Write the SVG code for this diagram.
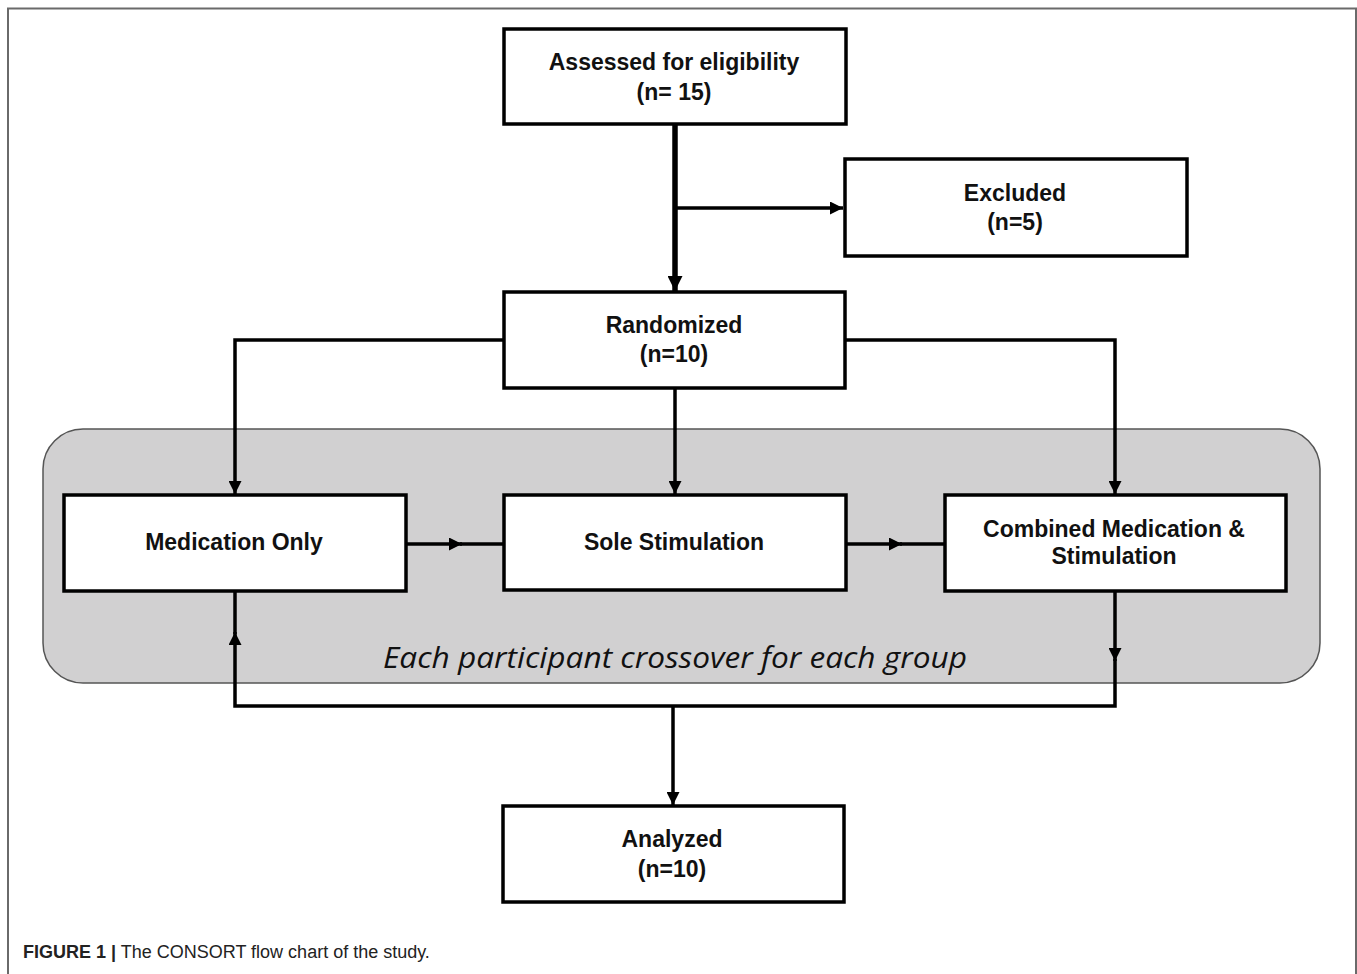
<svg xmlns="http://www.w3.org/2000/svg" width="1357" height="974" viewBox="0 0 1357 974">
  <style>
    .box { fill: #ffffff; stroke: #000000; stroke-width: 3.5; }
    .lbl { font-family: "Liberation Sans", Arial, sans-serif; font-weight: bold; font-size: 23px; fill: #111111; text-anchor: middle; }
    .conn { fill: none; stroke: #000000; stroke-width: 3.5; }
    .trunk { fill: none; stroke: #000000; stroke-width: 5.5; }
    .note { font-family: "Open Sans", "Noto Sans", sans-serif; font-style: italic; font-size: 29px; fill: #111111; }
    .cap { font-family: "Liberation Sans", Arial, sans-serif; font-size: 18px; fill: #222222; }
  </style>
  <defs>
    <marker id="arrow" viewBox="0 0 13 13" refX="13" refY="6.5" markerWidth="13" markerHeight="13" markerUnits="userSpaceOnUse" orient="auto">
      <path d="M0,0 L13,6.5 L0,13 z" fill="#000000"/>
    </marker>
    <marker id="arrowBig" viewBox="0 0 15 15" refX="15" refY="7.5" markerWidth="15" markerHeight="15" markerUnits="userSpaceOnUse" orient="auto">
      <path d="M0,0 L15,7.5 L0,15 z" fill="#000000"/>
    </marker>
  </defs>

  <rect width="1357" height="974" fill="#ffffff"/>

  <!-- figure frame -->
  <path d="M8,974 V8.5 H1356 V974" fill="none" stroke="#6a6a6a" stroke-width="2"/>

  <!-- crossover panel -->
  <g id="crossover-panel">
    <rect x="43" y="429" width="1277" height="254" rx="40" ry="40" fill="#d1d0d1" stroke="#555555" stroke-width="1.5"/>
    <text class="note" x="383" y="668" textLength="584" lengthAdjust="spacingAndGlyphs">Each participant crossover for each group</text>
  </g>

  <!-- connectors -->
  <g id="connectors">
    <path class="trunk" d="M675,124 V291" marker-end="url(#arrowBig)"/>
    <path class="conn" d="M677,208 H843" marker-end="url(#arrow)"/>
    <path class="conn" d="M503,340 H235 V494" marker-end="url(#arrow)"/>
    <path class="conn" d="M845,340 H1115 V494" marker-end="url(#arrow)"/>
    <path class="conn" d="M675,388 V494" marker-end="url(#arrow)"/>
    <path class="conn" d="M406,544 H462" marker-end="url(#arrow)"/>
    <path class="conn" d="M460,544 H503"/>
    <path class="conn" d="M846,544 H902" marker-end="url(#arrow)"/>
    <path class="conn" d="M900,544 H944"/>
    <path class="conn" d="M1115,592 V661" marker-end="url(#arrow)"/>
    <path class="conn" d="M1115,659 V706 H235 V632" marker-end="url(#arrow)"/>
    <path class="conn" d="M235,634 V592"/>
    <path class="conn" d="M673,706 V805" marker-end="url(#arrow)"/>
  </g>

  <g id="assessed">
    <rect class="box" x="504" y="29" width="342" height="95"/>
    <text class="lbl" x="674" y="70">Assessed for eligibility</text>
    <text class="lbl" x="674" y="100">(n= 15)</text>
  </g>

  <g id="excluded">
    <rect class="box" x="845" y="159" width="342" height="97"/>
    <text class="lbl" x="1015" y="201">Excluded</text>
    <text class="lbl" x="1015" y="230">(n=5)</text>
  </g>

  <g id="randomized">
    <rect class="box" x="504" y="292" width="341" height="96"/>
    <text class="lbl" x="674" y="333">Randomized</text>
    <text class="lbl" x="674" y="362">(n=10)</text>
  </g>

  <g id="medication-only">
    <rect class="box" x="64" y="495" width="342" height="96"/>
    <text class="lbl" x="234" y="550">Medication Only</text>
  </g>

  <g id="sole-stimulation">
    <rect class="box" x="504" y="495" width="342" height="95"/>
    <text class="lbl" x="674" y="550">Sole Stimulation</text>
  </g>

  <g id="combined">
    <rect class="box" x="945" y="495" width="341" height="96"/>
    <text class="lbl" x="1114" y="537">Combined Medication &amp;</text>
    <text class="lbl" x="1114" y="564">Stimulation</text>
  </g>

  <g id="analyzed">
    <rect class="box" x="503" y="806" width="341" height="96"/>
    <text class="lbl" x="672" y="847">Analyzed</text>
    <text class="lbl" x="672" y="877">(n=10)</text>
  </g>

  <!-- caption -->
  <text class="cap" x="23" y="958"><tspan font-weight="bold">FIGURE 1 |</tspan> The CONSORT flow chart of the study.</text>
</svg>
